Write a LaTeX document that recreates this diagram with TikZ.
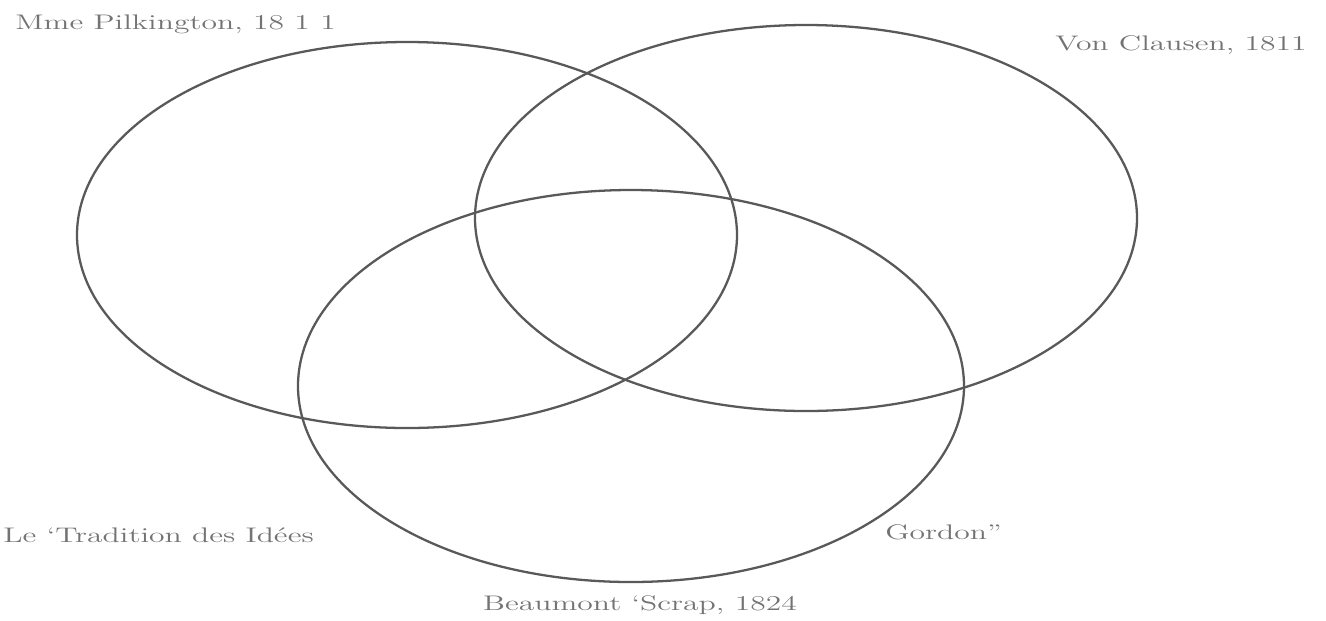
\documentclass[tikz,border=0pt]{standalone}
\usepackage{tikz}

\newcommand{\widelabel}[1]{\scalebox{1.5}[1]{#1}}
\tikzset{
  set/.style={line width=1.3pt, black!65},
  setlabel/.style={inner sep=0pt, text=black!55, font=\large}
}

\begin{document}
\begin{tikzpicture}[x=0.02cm,y=-0.02cm]
\useasboundingbox (0,0) rectangle (1326,620);
\coordinate (L) at (407,235);
\coordinate (R) at (806,218);
\coordinate (B) at (631,386);
\draw[set] (L) ellipse [x radius=330, y radius=193];
\draw[set] (R) ellipse [x radius=331, y radius=193];
\draw[set] (B) ellipse [x radius=333, y radius=196];
\node[setlabel, anchor=west] (lblL) at (15,24) {\widelabel{Mme Pilkington, 18 1 1}};
\node[setlabel, anchor=west] (lblR) at (1055,45) {\widelabel{Von Clausen, 1811}};
\node[setlabel, anchor=west] (lblBL) at (3,535) {\widelabel{Le `Tradition des Idées}};
\node[setlabel, anchor=west] (lblBR) at (885,532) {\widelabel{Gordon''}};
\node[setlabel] (lblB) at (640,605) {\widelabel{Beaumont `Scrap, 1824}};
\end{tikzpicture}
\end{document}
